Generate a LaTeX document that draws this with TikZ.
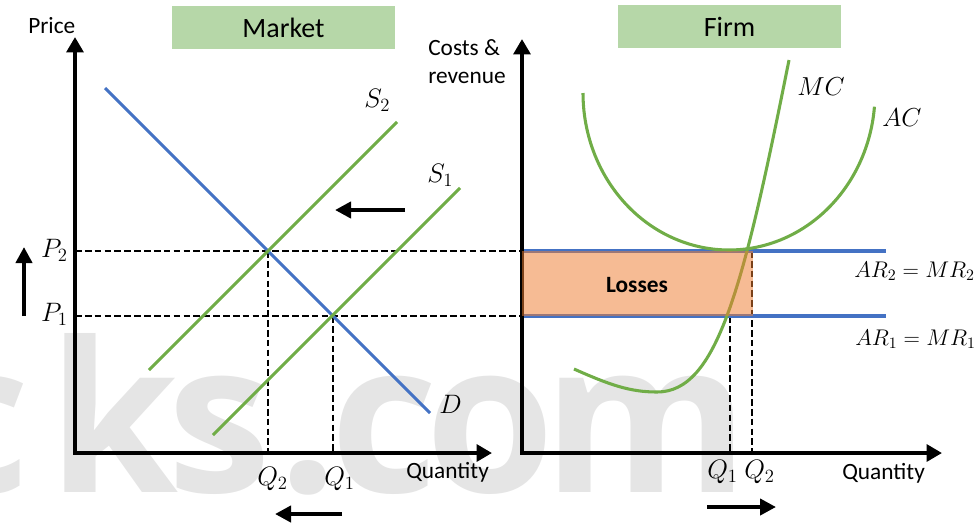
\RequirePackage{fix-cm}
\documentclass[tikz,border=0pt]{standalone}
\usepackage[no-math]{fontspec}
\setmainfont{Carlito}
\newfontfamily\wmfont{Open Sans}
\usetikzlibrary{arrows.meta}

\definecolor{curvegreen}{HTML}{70AD47}
\definecolor{revblue}{HTML}{4472C4}
\definecolor{titlegreen}{HTML}{B6D7A8}
\definecolor{lossfill}{HTML}{ED7D31}

\begin{document}
\begin{tikzpicture}[x=0.75pt,y=-0.75pt,
  axis/.style={line width=3pt,
    {Triangle[length=11.5pt,width=12.5pt]}-{Triangle[length=11.5pt,width=12.5pt]}},
  shiftarrow/.style={line width=3pt, -{Triangle[length=12pt,width=12pt]}},
  guide/.style={line width=1.7pt, dash pattern=on 5pt off 2.4pt},
  curve/.style={line width=2.3pt, curvegreen},
  revline/.style={line width=2.3pt, revblue},
  titlebox/.style={fill=titlegreen, minimum width=167.25pt, minimum height=32.25pt,
    inner sep=0pt, font=\fontsize{21}{24}\selectfont},
  axlabel/.style={inner sep=0pt, font=\fontsize{17.5}{21}\selectfont},
  mlabel/.style={inner sep=0pt, font=\fontsize{20}{24}\selectfont},
  eqlabel/.style={inner sep=0pt, font=\fontsize{17}{20}\selectfont},
  biglabel/.style={inner sep=0pt, font=\fontsize{19.5}{24}\selectfont},
  wmletter/.style={anchor=base, inner sep=0pt, text=black!10,
    font=\wmfont\bfseries\fontsize{157}{157}\selectfont},
]
\useasboundingbox (0,0) rectangle (980,522);

% faint background lettering, one glyph at a time
\foreach \ch/\xx [count=\i] in {c/-24, k/113, s/219.5, ./308.5, c/384.5, o/490, m/646.5}
  \node[wmletter] (wm\i) at (\xx,492) {\ch};

% panel titles
\node[titlebox] (markettitle) at (283.5,27.5) {Market};
\node[titlebox] (firmtitle) at (729.5,26.5) {Firm};

% ---------------- market panel ----------------
\coordinate (LO) at (75,453);
\coordinate (Ltop) at (75,37);
\coordinate (Lright) at (492,453);
\coordinate (E2) at (268,251);
\coordinate (E1) at (333,316);

% price and quantity guides
\draw[guide] (75,251) -- (522,251);
\draw[guide] (75,316) -- (522,316);
\draw[guide] (E2) -- (268,453);
\draw[guide] (E1) -- (333,453);

% demand and supply
\draw[revline] (105,88) -- (430,413);
\draw[curve] (149,370) -- (397,122);
\draw[curve] (213,435) -- (460,188);

\draw[axis] (Ltop) -- (LO) -- (Lright);

\node[axlabel, anchor=base west] (pricelbl) at (28,33) {Price};
\node[axlabel, anchor=base west] (qtylblL) at (406,478) {Quantity};
\node[mlabel, anchor=base east] (p2) at (68,257) {$P_2$};
\node[mlabel, anchor=base east] (p1) at (68,321) {$P_1$};
\node[mlabel, anchor=base west] (q2L) at (257,485) {$Q_2$};
\node[mlabel, anchor=base west] (q1L) at (324,485) {$Q_1$};
\node[mlabel, anchor=base west] (dlbl) at (439,413) {$D$};
\node[mlabel, anchor=base west] (s2lbl) at (364,107) {$S_2$};
\node[mlabel, anchor=base west] (s1lbl) at (427,182) {$S_1$};

% shift arrows
\coordinate (sa1) at (405,210);
\coordinate (sa2) at (335,210);
\draw[shiftarrow] (sa1) -- (sa2);
\coordinate (pa1) at (24,316);
\coordinate (pa2) at (24,247);
\draw[shiftarrow] (pa1) -- (pa2);
\coordinate (qa1) at (342,514);
\coordinate (qa2) at (275,514);
\draw[shiftarrow] (qa1) -- (qa2);

% ---------------- firm panel ----------------
\coordinate (RO) at (522,453);
\coordinate (Rtop) at (522,39);
\coordinate (Rright) at (942,453);

\draw[guide] (730,316) -- (730,453);
\draw[guide] (752,251) -- (752,453);

% revenue lines
\draw[revline] (522,251) -- (886,251);
\draw[revline] (522,316) -- (886,316);

% average cost
\draw[curve] plot[domain=180:355, samples=90, smooth, variable=\t]
  ({729+146*cos(\t)}, {93-157*sin(\t)});
% marginal cost
\draw[curve] (574,369) .. controls (610,385) and (630,392) .. (657,392)
  .. controls (717,392) and (743,290) .. (789,60);

\draw[axis] (Rtop) -- (RO) -- (Rright);

% loss area
\fill[lossfill, fill opacity=0.52] (522,251) rectangle (753,316);
\node[inner sep=0pt, font=\bfseries\fontsize{17.5}{21}\selectfont] (losses) at (637,285) {Losses};

\node[axlabel, anchor=base west] (costlbl) at (428,55) {Costs \&};
\node[axlabel, anchor=base west] (revlbl) at (428,83) {revenue};
\node[axlabel, anchor=base west] (qtylblR) at (842,479) {Quantity};
\node[mlabel, anchor=base west] (q1R) at (707,478) {$Q_1$};
\node[mlabel, anchor=base west] (q2R) at (744,478) {$Q_2$};
\node[biglabel, anchor=base west] (mclbl) at (797,95) {$MC$};
\node[biglabel, anchor=base west] (aclbl) at (882,126) {$AC$};
\node[eqlabel, anchor=base west] (ar2) at (854,277) {$AR_2=MR_2$};
\node[eqlabel, anchor=base west] (ar1) at (855,345) {$AR_1=MR_1$};

\coordinate (ra1) at (707,507);
\coordinate (ra2) at (776,507);
\draw[shiftarrow] (ra1) -- (ra2);
\end{tikzpicture}
\end{document}
